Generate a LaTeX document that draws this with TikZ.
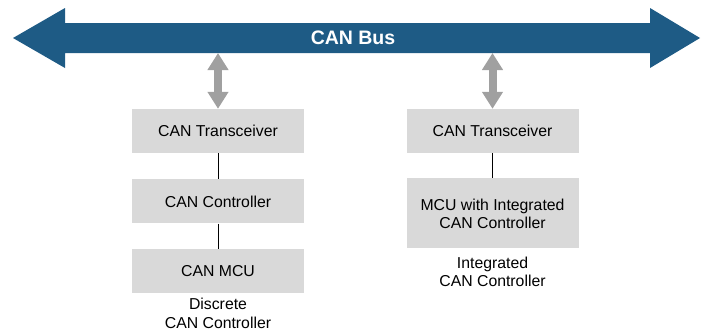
\documentclass[tikz,border=0pt]{standalone}
\usepackage{fontspec}
\setmainfont{Liberation Sans}
\usepackage{tikz}
\usetikzlibrary{arrows.meta,positioning}
\definecolor{busblue}{RGB}{30,91,133}
\definecolor{boxgray}{RGB}{217,217,217}
\definecolor{arrowgray}{RGB}{160,160,160}
\tikzset{%
canbox/.style={fill=boxgray, minimum width=172pt, minimum height=44pt, align=center, font=\fontsize{15.8}{18}\selectfont},
link/.style={draw=black, line width=0.6pt},
caption/.style={align=center, inner sep=0pt, font=\fontsize{15.8}{18.5}\selectfont},
updown/.style={draw=arrowgray, line width=8pt, {Triangle[width=20pt,length=17pt]}-{Triangle[width=20pt,length=17pt]}}
}

\begin{document}
\begin{tikzpicture}[x=1pt, y=-1pt, node distance=26pt]
\useasboundingbox (0,0) rectangle (706,330);
% the bus
\fill[busblue] (13,38) -- (65,8) -- (65,23) -- (650,23) -- (650,8) -- (700,38)
  -- (650,68) -- (650,53) -- (65,53) -- (65,68) -- cycle;
\node[text=white, font=\bfseries\fontsize{19.5}{22}\selectfont] (bus) at (353,38) {CAN Bus};
\coordinate (busedge) at (0,53);
% discrete controller
\node[canbox] (trl) at (218,131) {CAN Transceiver};
\node[canbox] (ctl) [below=of trl] {CAN Controller};
\node[canbox] (mcu) [below=25pt of ctl] {CAN MCU};
\node[caption] (capl) [below=5pt of mcu] {Discrete\\CAN Controller};
% integrated controller
\node[canbox] (trr) at (492.5,131) {CAN Transceiver};
\node[canbox, minimum height=70pt] (mcr) [below=25pt of trr] {MCU with Integrated\\CAN Controller};
\node[caption] (capr) [below=8pt of mcr] {Integrated\\CAN Controller};
% links
\draw[link] (trl) -- (ctl);
\draw[link] (ctl) -- (mcu);
\draw[link] (trr) -- (mcr);
\draw[updown] (trl.north) -- (trl.north |- busedge);
\draw[updown] (trr.north) -- (trr.north |- busedge);
\end{tikzpicture}
\end{document}
